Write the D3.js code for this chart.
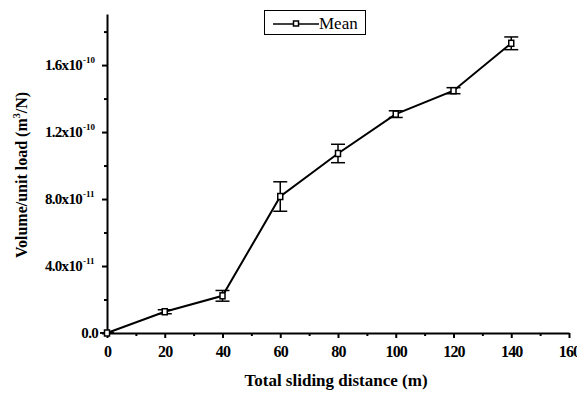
<!DOCTYPE html>
<html>
<head>
<meta charset="utf-8">
<script src="https://cdn.jsdelivr.net/npm/d3@7"></script>
<style>
  body { margin: 0; background: #fff; }
  svg { display: block; }
  svg text { font-family: "Liberation Serif", "Times New Roman", serif; }
</style>
</head>
<body>
<div id="vis"></div>
<script>
const frame_width = 577;
const frame_height = 394;
const margins = {left: 107, right: 8, top: 14, bottom: 61};
const SERIF = "Liberation Serif";

// data
const distance = [0, 20, 40, 60, 80, 100, 120, 140];
const mean_vol = [0, 1.27e-11, 2.22e-11, 8.15e-11, 1.072e-10, 1.307e-10, 1.447e-10, 1.73e-10];
const err_vol = [0, 0.12e-11, 0.32e-11, 0.88e-11, 0.55e-11, 0.2e-11, 0.18e-11, 0.38e-11];
const y_ticks = [0, 4e-11, 8e-11, 1.2e-10, 1.6e-10];
const y_tick_labels = [["0.0", ""], ["4.0x10", "-11"], ["8.0x10", "-11"], ["1.2x10", "-10"], ["1.6x10", "-10"]];
const x_ticks = [0, 20, 40, 60, 80, 100, 120, 140, 160];

const FRAME = d3.select("#vis")
    .append("svg")
        .attr("width", frame_width)
        .attr("height", frame_height);

const X_SCALE = d3.scaleLinear()
    .domain([0, 160])
    .range([margins.left, frame_width - margins.right]);

const Y_SCALE = d3.scaleLinear()
    .domain([0, 1.905e-10])
    .range([frame_height - margins.bottom, margins.top]);

const y0 = Y_SCALE(0);

// x axis with major and minor ticks
const xAxis = FRAME.append("g")
    .attr("transform", "translate(0," + y0 + ")")
    .call(d3.axisBottom(X_SCALE).tickValues(x_ticks).tickSize(5).tickPadding(8).tickSizeOuter(0));
xAxis.select(".domain").attr("stroke-width", 2);
xAxis.selectAll(".tick line").attr("stroke-width", 2);
xAxis.selectAll(".tick text")
    .attr("font-family", SERIF)
    .attr("font-weight", "bold")
    .attr("font-size", "16px")
    .attr("letter-spacing", "-0.8px")
    .attr("fill", "#000");

FRAME.append("g")
    .attr("transform", "translate(0," + y0 + ")")
    .call(d3.axisBottom(X_SCALE).tickValues(d3.range(10, 160, 20)).tickSize(3).tickFormat(""))
    .call(g => g.select(".domain").remove())
    .selectAll(".tick line").attr("stroke-width", 2);

// y axis
const yAxis = FRAME.append("g")
    .attr("transform", "translate(" + margins.left + ",0)")
    .call(d3.axisLeft(Y_SCALE).tickValues(y_ticks).tickSize(5).tickFormat("").tickSizeOuter(0));
yAxis.select(".domain").attr("stroke-width", 2);
yAxis.selectAll(".tick line").attr("stroke-width", 2);

FRAME.append("g")
    .attr("transform", "translate(" + margins.left + ",0)")
    .call(d3.axisLeft(Y_SCALE).tickValues(d3.range(2e-11, 1.9e-10, 4e-11)).tickSize(3).tickFormat(""))
    .call(g => g.select(".domain").remove())
    .selectAll(".tick line").attr("stroke-width", 2);

// y tick labels with superscript exponent
y_ticks.forEach((v, i) => {
    FRAME.append("text")
        .attr("x", margins.left - (y_tick_labels[i][1] ? 25 : 9))
        .attr("y", Y_SCALE(v) + 5)
        .attr("text-anchor", "end")
        .attr("font-family", SERIF)
        .attr("font-weight", "bold")
        .attr("font-size", "15px")
        .attr("letter-spacing", "-0.7px")
        .text(y_tick_labels[i][0]);
    if (y_tick_labels[i][1]) {
        FRAME.append("text")
            .attr("x", margins.left - 24)
            .attr("y", Y_SCALE(v) - 2)
            .attr("font-family", SERIF)
            .attr("font-weight", "bold")
            .attr("font-size", "9px")
            .text(y_tick_labels[i][1]);
    }
});

// axis titles
FRAME.append("text")
    .attr("x", (X_SCALE(0) + X_SCALE(160)) / 2 - 2)
    .attr("y", 386)
    .attr("text-anchor", "middle")
    .attr("font-family", SERIF)
    .attr("font-weight", "bold")
    .attr("font-size", "17px")
    .text("Total sliding distance (m)");

const yTitle = FRAME.append("text")
    .attr("transform", "translate(27," + 175 + ") rotate(-90)")
    .attr("text-anchor", "middle")
    .attr("font-family", SERIF)
    .attr("font-weight", "bold")
    .attr("font-size", "16px");
yTitle.append("tspan").text("Volume/unit load (m");
yTitle.append("tspan").attr("font-size", "10px").attr("dy", -7).text("3");
yTitle.append("tspan").attr("dy", 7).text("/N)");

// line
const line = d3.line()
    .x((d, i) => X_SCALE(distance[i]))
    .y(d => Y_SCALE(d));

FRAME.append("path")
    .datum(mean_vol)
    .attr("d", line)
    .attr("fill", "none")
    .attr("stroke", "#000")
    .attr("stroke-width", 2);

// error bars
const cap = 7;
const bars = FRAME.selectAll(".err")
    .data(mean_vol)
    .enter()
    .append("g")
        .attr("class", "err");
bars.append("line")
    .attr("x1", (d, i) => X_SCALE(distance[i]))
    .attr("x2", (d, i) => X_SCALE(distance[i]))
    .attr("y1", (d, i) => Y_SCALE(d - err_vol[i]))
    .attr("y2", (d, i) => Y_SCALE(d + err_vol[i]))
    .attr("stroke", "#000")
    .attr("stroke-width", 1.5);
[-1, 1].forEach(s => {
    bars.append("line")
        .attr("x1", (d, i) => X_SCALE(distance[i]) - cap)
        .attr("x2", (d, i) => X_SCALE(distance[i]) + cap)
        .attr("y1", (d, i) => Y_SCALE(d + s * err_vol[i]))
        .attr("y2", (d, i) => Y_SCALE(d + s * err_vol[i]))
        .attr("stroke", "#000")
        .attr("stroke-width", 1.5);
});

// markers
FRAME.selectAll(".pt")
    .data(mean_vol)
    .enter()
    .append("rect")
        .attr("class", "pt")
        .attr("x", (d, i) => X_SCALE(distance[i]) - 2.5)
        .attr("y", d => Y_SCALE(d) - 3)
        .attr("width", 5)
        .attr("height", 6)
        .attr("fill", "#fff")
        .attr("stroke", "#000")
        .attr("stroke-width", 1.5);

// legend
const legend = FRAME.append("g");
legend.append("rect")
    .attr("x", 264.5).attr("y", 10.5)
    .attr("width", 101).attr("height", 24)
    .attr("fill", "#fff").attr("stroke", "#000").attr("stroke-width", 1);
legend.append("line")
    .attr("x1", 273).attr("x2", 319).attr("y1", 24).attr("y2", 24)
    .attr("stroke", "#000").attr("stroke-width", 1.5);
legend.append("rect")
    .attr("x", 293.5).attr("y", 21)
    .attr("width", 5).attr("height", 5)
    .attr("fill", "#fff").attr("stroke", "#000").attr("stroke-width", 1.5);
legend.append("text")
    .attr("x", 319).attr("y", 29)
    .attr("font-family", SERIF)
    .attr("font-size", "17px")
    .text("Mean");
</script>
</body>
</html>
